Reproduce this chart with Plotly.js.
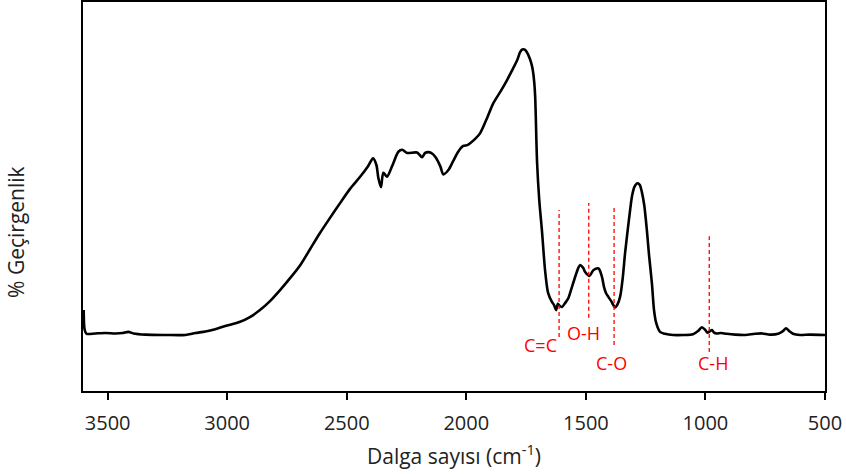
<!DOCTYPE html>
<html>
<head>
<meta charset="utf-8">
<script src="https://cdn.plot.ly/plotly-3.0.1.min.js"></script>
<style>html,body{margin:0;padding:0;background:#fff;}#chart{width:846px;height:474px;}</style>
</head>
<body>
<div id="chart"></div>
<script>
// Wavenumber (cm-1) and transmittance (arbitrary %)
var wavenumber = [3600,3596,3588,3551,3509,3467,3438,3413,3392,3342,3258,3175,3133,3091,3050,3008,2946,2905,2863,2821,2778,2737,2694,2653,2612,2570,2528,2487,2445,2411,2390,2376,2368,2357,2347,2332,2311,2284,2268,2248,2206,2185,2172,2159,2147,2130,2109,2096,2075,2055,2034,2013,1996,1984,1963,1942,1913,1887,1858,1829,1808,1787,1775,1766,1754,1741,1729,1722,1716,1712,1704,1695,1684,1670,1658,1642,1633,1625,1617,1610,1600,1587,1573,1562,1545,1532,1524,1511,1503,1485,1468,1447,1433,1424,1416,1406,1394,1378,1369,1357,1346,1336,1325,1315,1307,1297,1284,1275,1266,1256,1245,1236,1224,1215,1206,1190,1169,1135,1093,1052,1031,1015,1001,992,983,973,964,953,935,911,876,834,793,763,730,696,676,663,650,634,604,563,500];
var transmittance = [20.8,15.7,14.7,14.8,14.9,14.8,14.9,15.2,14.8,14.5,14.4,14.4,14.9,15.3,15.9,16.7,17.8,19.0,20.8,23.1,26.0,29.0,32.4,36.5,40.6,44.5,48.3,51.9,55.0,57.8,59.8,58.1,54.8,52.4,56.1,55.1,57.7,61.5,62.0,61.2,61.3,60.1,61.2,61.4,61.2,60.2,57.8,55.7,56.8,59.1,61.5,63.0,63.2,63.7,64.8,66.3,70.2,74.0,76.9,80.0,82.5,85.1,87.1,87.8,87.7,86.4,84.4,82.5,79.4,75.6,58.6,49.1,41.4,30.6,25.2,22.9,22.1,20.8,22.4,21.9,21.6,22.6,23.9,26.0,29.3,31.6,32.4,31.6,30.6,29.6,31.1,31.5,29.4,26.7,25.2,24.2,23.1,21.5,22.1,24.2,29.0,35.5,41.4,46.5,50.1,52.5,53.4,53.0,51.2,47.8,41.4,35.0,27.8,20.8,17.5,15.2,14.7,14.4,14.4,14.6,15.4,16.4,15.7,15.0,15.3,15.7,15.0,14.8,14.9,14.7,14.5,14.4,14.7,14.8,14.5,14.7,15.4,16.1,15.4,14.7,14.4,14.5,14.4];

var tickValues = [3500,3000,2500,2000,1500,1000,500];
var tickLabels = ["3500","3000","2500","2000","1500","1000","500"];

// Band markers
var bandLabels = ["C=C","O-H","C-O","C-H"];
var bandPos = [1612,1488,1382,984];
var bandLineTop = [46.5,48.3,47.3,39.8];
var bandLineBottom = [13.9,18.8,11.8,10.0];
var bandLabelX = [1691,1511,1391,969];
var bandLabelY = [11.8,14.9,7.3,7.3];

var xTitle = "Dalga sayısı (cm<sup>-1</sup>)";
var yTitle = "% Geçirgenlik";

var trace = {
  x: wavenumber, y: transmittance, type: "scatter", mode: "lines",
  line: {color: "#000000", width: 2.6, shape: "spline", smoothing: 0.8},
  hoverinfo: "skip"
};

var shapes = bandPos.map(function(p, i){
  return {type: "line", xref: "x", yref: "y", x0: p, x1: p, y0: bandLineBottom[i], y1: bandLineTop[i],
    line: {color: "#FF0000", width: 1.3, dash: "4px,3px"}};
});

var annotations = bandLabels.map(function(t, i){
  return {text: t, x: bandLabelX[i], y: bandLabelY[i], xref: "x", yref: "y", showarrow: false,
    xanchor: "center", yanchor: "middle", font: {family: "Open Sans, sans-serif", size: 18, color: "#FF0000"}};
});
annotations.push({text: xTitle, xref: "paper", yref: "paper", x: 0.5, y: -0.1645, showarrow: false,
  xanchor: "center", yanchor: "middle", font: {family: "Open Sans, sans-serif", size: 21, color: "#222"}});
annotations.push({text: yTitle, xref: "paper", yref: "paper", x: -0.0903, y: 0.409, showarrow: false, textangle: -90,
  xanchor: "center", yanchor: "middle", font: {family: "Open Sans, sans-serif", size: 21, color: "#222"}});

var layout = {
  width: 846, height: 474,
  margin: {l: 83, r: 21, t: 2, b: 83},
  paper_bgcolor: "#ffffff", plot_bgcolor: "#ffffff",
  showlegend: false,
  xaxis: {
    range: [3603, 500], autorange: false,
    tickvals: tickValues, ticktext: tickLabels,
    ticks: "outside", ticklen: 7, tickwidth: 2, tickcolor: "#000",
    ticklabelstandoff: 6,
    showline: true, linecolor: "#000", linewidth: 2, mirror: true,
    showgrid: false, zeroline: false,
    tickfont: {family: "Open Sans, sans-serif", size: 20, color: "#222"}
  },
  yaxis: {
    range: [0, 100], autorange: false,
    showticklabels: false, ticks: "",
    showline: true, linecolor: "#000", linewidth: 2, mirror: true,
    showgrid: false, zeroline: false
  },
  shapes: shapes,
  annotations: annotations
};

Plotly.newPlot("chart", [trace], layout, {displayModeBar: false, staticPlot: true});
</script>
</body>
</html>
